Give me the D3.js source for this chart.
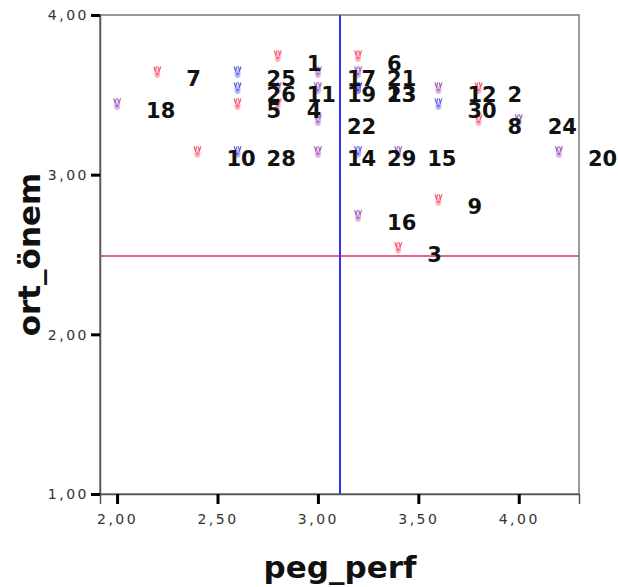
<!DOCTYPE html>
<html>
<head>
<meta charset="utf-8">
<script src="https://cdn.jsdelivr.net/npm/d3@7"></script>
<style>
  body { margin: 0; background: #fff; }
  svg { display: block; }
</style>
</head>
<body>
<svg id="chart" width="618" height="587"></svg>
<script>
// case numbers, x = peg_perf, y = ort_önem, group = which marker colour shows
const caseIds = [18, 7, 10, 25, 26, 5, 28, 1, 11, 4, 17, 19, 22, 14, 6, 21, 23, 13, 29, 16, 15, 3, 12, 30, 9, 2, 8, 24, 20];
const pegPerf = [2.0, 2.2, 2.4, 2.6, 2.6, 2.6, 2.6, 2.8, 2.8, 2.8, 3.0, 3.0, 3.0, 3.0, 3.2, 3.2, 3.2, 3.2, 3.2, 3.2, 3.4, 3.4, 3.6, 3.6, 3.6, 3.8, 3.8, 4.0, 4.2];
const ortOnem = [3.44, 3.64, 3.14, 3.64, 3.54, 3.44, 3.14, 3.74, 3.54, 3.44, 3.64, 3.54, 3.34, 3.14, 3.74, 3.64, 3.54, 3.54, 3.14, 2.74, 3.14, 2.54, 3.54, 3.44, 2.84, 3.54, 3.34, 3.34, 3.14];
const group = ["rb", "r", "r", "b", "b", "r", "b", "r", "rb", "r", "rb", "rb", "rb", "rb", "r", "rb", "b", "b", "b", "rb", "rb", "r", "rb", "b", "r", "r", "r", "rb", "rb"];

const xTicks = [2.0, 2.5, 3.0, 3.5, 4.0];
const yTicks = [1, 2, 3, 4];
const refX = 3.11;   // vertical reference line
const refY = 2.49;   // horizontal reference line

const points = caseIds.map((id, i) => ({id: id, x: pegPerf[i], y: ortOnem[i], g: group[i]}));

const margin = {top: 15, right: 39, bottom: 93, left: 100};
const svg = d3.select("#chart");
const width = +svg.attr("width") - margin.left - margin.right;
const height = +svg.attr("height") - margin.top - margin.bottom;

const x = d3.scaleLinear().domain([1.915, 4.3]).range([0, width]);
const y = d3.scaleLinear().domain([1, 4]).range([height, 0]);
const color = d3.scaleOrdinal().domain(["r", "b", "rb"]).range(["#ff3b5c", "#4a4ae8", "#9a44b8"]);
const fmt = d => d3.format(".2f")(d).replace(".", ",");

const g = svg.append("g").attr("transform", `translate(${margin.left},${margin.top})`);

// plot frame
g.append("rect")
    .attr("width", width).attr("height", height)
    .attr("fill", "none").attr("stroke", "#7a7a7a").attr("stroke-width", 1.5);

// axes
const xAxis = g.append("g").attr("transform", `translate(0,${height})`)
    .call(d3.axisBottom(x).tickValues(xTicks).tickFormat(fmt).tickSize(10).tickPadding(10));
const yAxis = g.append("g")
    .call(d3.axisLeft(y).tickValues(yTicks).tickFormat(fmt).tickSize(9).tickPadding(2));

[xAxis, yAxis].forEach(a => {
    a.select(".domain").attr("stroke", "#555").attr("stroke-width", 1.5);
    a.selectAll(".tick line").attr("stroke", "#000").attr("stroke-width", 3);
    a.selectAll(".tick text")
        .attr("fill", "#333")
        .style("font-family", "DejaVu Sans")
        .style("font-size", "14px")
        .style("letter-spacing", "2.5px");
});
yAxis.selectAll(".tick text").attr("dy", "0.35em");

// reference lines
g.append("line")
    .attr("x1", 0).attr("x2", width)
    .attr("y1", y(refY)).attr("y2", y(refY))
    .attr("stroke", "#d8306a").attr("stroke-width", 1.5);
g.append("line")
    .attr("x1", x(refX)).attr("x2", x(refX))
    .attr("y1", 0).attr("y2", height)
    .attr("stroke", "#3030f4").attr("stroke-width", 2);

// markers: small "v" topped blob like the SPSS glyph
const mk = g.append("g").selectAll("g").data(points).join("g")
    .attr("transform", d => `translate(${x(d.x)},${y(d.y)})`)
    .attr("opacity", 0.85);
mk.append("path")
    .attr("d", "M-3.5,-6 L-2,-1.5 L-0.6,-6 M0.6,-6 L2,-1.5 L3.5,-6")
    .attr("fill", "none")
    .attr("stroke", d => color(d.g))
    .attr("stroke-width", 1.2);
mk.append("ellipse")
    .attr("cx", 0).attr("cy", 1.5)
    .attr("rx", 3).attr("ry", 4)
    .attr("fill", d => color(d.g))
    .attr("fill-opacity", 0.45);
mk.append("circle")
    .attr("cx", 0).attr("cy", 1.5).attr("r", 1.3)
    .attr("fill", d => color(d.g));

// case labels to the right of each marker
g.append("g").selectAll("text").data(points).join("text")
    .attr("x", d => x(d.x) + 29)
    .attr("y", d => y(d.y) + 14)
    .attr("fill", "#111")
    .style("font-family", "DejaVu Sans")
    .style("font-weight", "bold")
    .style("font-size", "21px")
    .text(d => d.id);

// axis titles
svg.append("text")
    .attr("x", margin.left + x(3.11)).attr("y", 578)
    .attr("text-anchor", "middle")
    .style("font-family", "DejaVu Sans")
    .style("font-weight", "bold")
    .style("font-size", "31px")
    .attr("fill", "#111")
    .text("peg_perf");
svg.append("text")
    .attr("transform", `translate(40,${margin.top + y(2.5)}) rotate(-90)`)
    .attr("text-anchor", "middle")
    .style("font-family", "DejaVu Sans")
    .style("font-weight", "bold")
    .style("font-size", "31px")
    .attr("fill", "#111")
    .text("ort_önem");
</script>
</body>
</html>
